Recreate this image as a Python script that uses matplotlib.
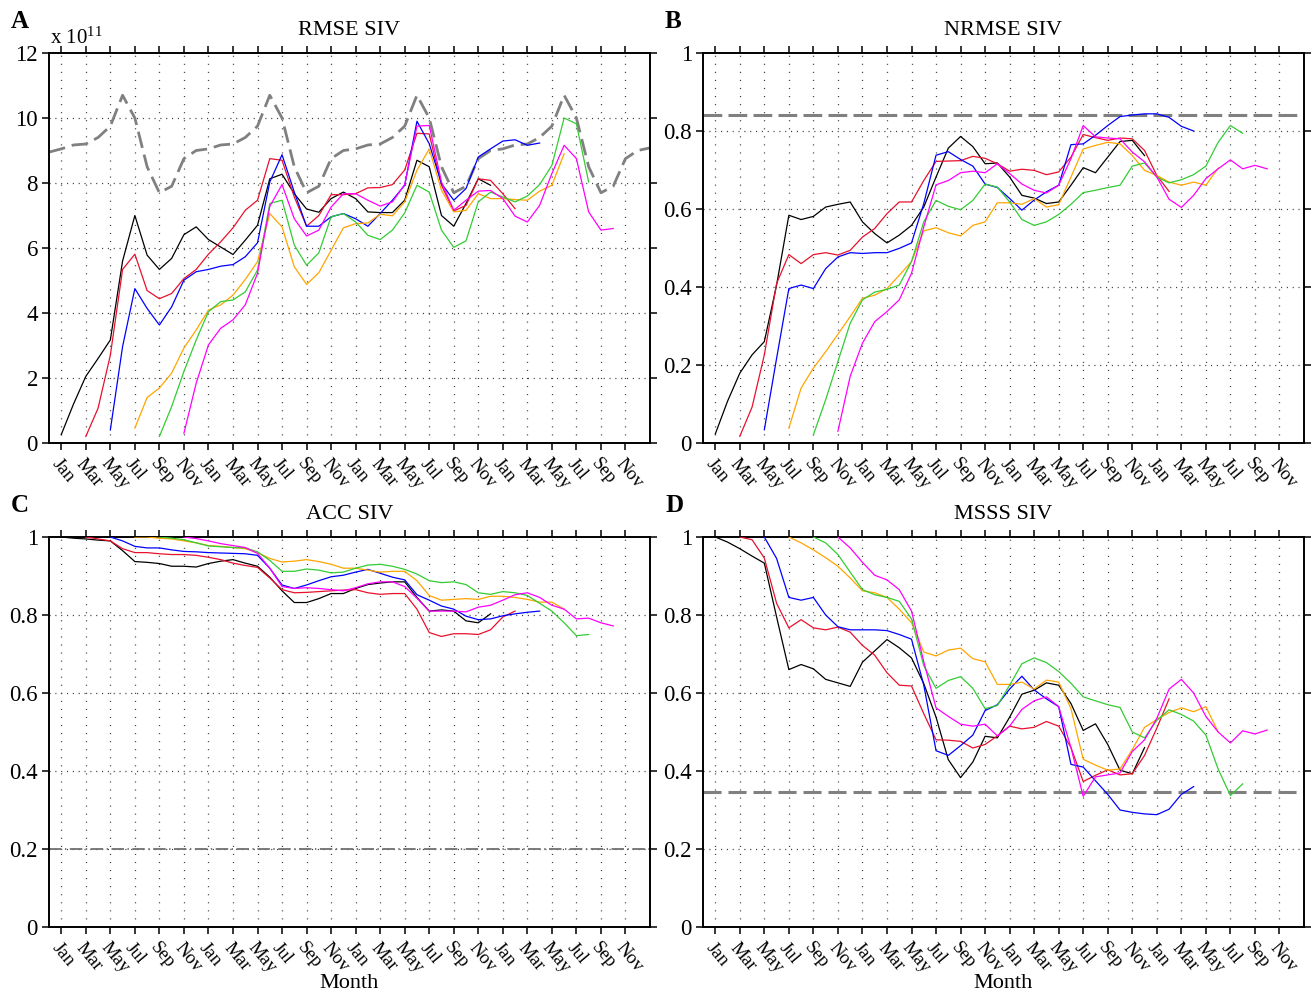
import numpy as np
import matplotlib
matplotlib.use("Agg")
import matplotlib.pyplot as plt

plt.rcParams['font.family'] = ['Liberation Serif', 'DejaVu Serif']
plt.rcParams['mathtext.fontset'] = 'stix'
plt.rcParams['lines.scale_dashes'] = False

# ---------------------------------------------------------------- data
month_labels = ['Jan', 'Mar', 'May', 'Jul', 'Sep', 'Nov'] * 4
series_names = ['Jan', 'Mar', 'May', 'Jul', 'Sep', 'Nov']
series_start = [0, 2, 4, 6, 8, 10]          # lead month index of first value
series_colors = ['#000000', '#e8112d', '#0000ff', '#ffa500', '#33cc33', '#ff00ff']

# RMSE of sea-ice volume (x 1e11)
rmse_black = [0.26, 1.2, 2.05, 2.6, 3.17, 5.6, 7.0, 5.78, 5.34, 5.68, 6.41, 6.65, 6.26, 6.03, 5.8, 6.24, 6.7, 8.13,
              8.27, 7.67, 7.2, 7.1, 7.52, 7.72, 7.52, 7.11, 7.09, 7.09, 7.47, 8.7, 8.5, 7.0, 6.67, 7.37, 8.13, 7.93]
rmse_red = [0.2, 1.07, 2.7, 5.34, 5.81, 4.69, 4.44, 4.6, 5.06, 5.34, 5.81, 6.19, 6.62, 7.16, 7.47, 8.75, 8.7, 7.57,
            6.67, 7.0, 7.64, 7.64, 7.67, 7.85, 7.86, 7.95, 8.4, 9.53, 9.51, 7.93, 7.14, 7.31, 8.13, 8.08, 7.67, 7.21]
rmse_blue = [0.4, 2.97, 4.75, 4.14, 3.63, 4.19, 5.01, 5.27, 5.34, 5.44, 5.49, 5.73, 6.16, 8.03, 8.87, 7.72, 6.67, 6.67,
             6.96, 7.06, 6.9, 6.67, 7.06, 7.47, 7.93, 9.9, 9.21, 7.98, 7.47, 7.83, 8.8, 9.05, 9.29, 9.33, 9.16, 9.23]
rmse_orange = [0.46, 1.4, 1.69, 2.15, 2.92, 3.48, 4.09, 4.25, 4.55, 5.03, 5.58, 7.06, 6.65, 5.42, 4.88, 5.24, 5.93,
               6.62, 6.75, 6.77, 7.04, 6.99, 7.42, 8.39, 9.05, 7.78, 7.11, 7.16, 7.67, 7.52, 7.52, 7.49, 7.47, 7.75,
               7.93, 8.9]
rmse_green = [0.2, 1.12, 2.2, 3.17, 4.04, 4.35, 4.4, 4.65, 5.32, 7.37, 7.47, 6.09, 5.47, 5.85, 6.96, 7.06, 6.8, 6.39,
              6.26, 6.55, 7.08, 7.93, 7.72, 6.55, 6.02, 6.22, 7.42, 7.72, 7.57, 7.42, 7.6, 7.95, 8.54, 10.0, 9.82, 8.03]
rmse_magenta = [0.3, 1.84, 3.02, 3.53, 3.79, 4.25, 5.22, 7.28, 7.95, 6.9, 6.37, 6.55, 7.26, 7.67, 7.67, 7.47, 7.29,
                7.42, 7.95, 9.75, 9.77, 8.03, 7.16, 7.47, 7.75, 7.77, 7.52, 6.98, 6.8, 7.31, 8.29, 9.16, 8.75, 7.11,
                6.55, 6.6]
# reference RMSE, months -1 .. 48
rmse_ref = [8.95, 9.05, 9.17, 9.2, 9.4, 9.75, 10.7, 10.0, 8.5, 7.7, 7.9, 8.75, 9.0,
            9.05, 9.17, 9.2, 9.4, 9.75, 10.7, 10.0, 8.5, 7.7, 7.9, 8.75, 9.0,
            9.05, 9.17, 9.2, 9.4, 9.75, 10.7, 10.0, 8.5, 7.7, 7.9, 8.75, 9.0,
            9.05, 9.17, 9.2, 9.4, 9.75, 10.7, 10.0, 8.5, 7.7, 7.9, 8.75, 9.0, 9.08]

# NRMSE
nrmse_black = [0.023, 0.107, 0.179, 0.226, 0.26, 0.405, 0.584, 0.573, 0.581, 0.605, 0.612, 0.618, 0.567, 0.537,
               0.513, 0.533, 0.558, 0.605, 0.682, 0.756, 0.786, 0.760, 0.716, 0.718, 0.682, 0.635, 0.628, 0.614,
               0.618, 0.661, 0.706, 0.693, 0.733, 0.773, 0.776, 0.737]
nrmse_red = [0.017, 0.092, 0.226, 0.409, 0.483, 0.460, 0.483, 0.488, 0.482, 0.494, 0.528, 0.550, 0.588, 0.618,
             0.618, 0.673, 0.722, 0.723, 0.724, 0.735, 0.730, 0.716, 0.697, 0.702, 0.699, 0.688, 0.695, 0.733,
             0.791, 0.783, 0.776, 0.782, 0.780, 0.750, 0.686, 0.645]
nrmse_blue = [0.034, 0.217, 0.396, 0.405, 0.396, 0.447, 0.477, 0.488, 0.486, 0.488, 0.488, 0.499, 0.513, 0.614,
              0.738, 0.747, 0.727, 0.710, 0.664, 0.655, 0.627, 0.597, 0.623, 0.644, 0.661, 0.765, 0.767, 0.789,
              0.814, 0.837, 0.841, 0.844, 0.844, 0.835, 0.812, 0.800]
nrmse_orange = [0.038, 0.141, 0.192, 0.234, 0.279, 0.324, 0.371, 0.379, 0.396, 0.430, 0.465, 0.544, 0.552, 0.539,
                0.531, 0.558, 0.567, 0.616, 0.616, 0.612, 0.627, 0.605, 0.611, 0.682, 0.754, 0.763, 0.771, 0.767,
                0.737, 0.699, 0.686, 0.669, 0.661, 0.669, 0.661, 0.705]
nrmse_green = [0.021, 0.111, 0.209, 0.307, 0.367, 0.387, 0.394, 0.405, 0.465, 0.567, 0.622, 0.607, 0.598, 0.622,
               0.664, 0.656, 0.618, 0.573, 0.558, 0.567, 0.586, 0.612, 0.642, 0.648, 0.655, 0.661, 0.710, 0.718,
               0.682, 0.667, 0.675, 0.688, 0.710, 0.771, 0.814, 0.794]
nrmse_magenta = [0.030, 0.171, 0.256, 0.311, 0.337, 0.367, 0.435, 0.554, 0.662, 0.673, 0.693, 0.697, 0.693, 0.716,
                 0.691, 0.664, 0.648, 0.641, 0.661, 0.729, 0.814, 0.785, 0.782, 0.780, 0.746, 0.721, 0.682, 0.625,
                 0.604, 0.635, 0.678, 0.703, 0.726, 0.703, 0.712, 0.703]
nrmse_ref = 0.84

# ACC
acc_black = [1.0, 0.997, 0.995, 0.992, 0.99, 0.965, 0.937, 0.935, 0.932, 0.925, 0.925, 0.923, 0.932, 0.938, 0.942,
             0.933, 0.925, 0.897, 0.862, 0.832, 0.832, 0.842, 0.855, 0.855, 0.868, 0.878, 0.882, 0.885, 0.885,
             0.845, 0.81, 0.813, 0.81, 0.785, 0.78, 0.803]
acc_red = [1.0, 0.995, 0.99, 0.97, 0.96, 0.96, 0.957, 0.955, 0.955, 0.953, 0.948, 0.942, 0.933, 0.927, 0.922,
           0.895, 0.865, 0.857, 0.858, 0.86, 0.862, 0.864, 0.865, 0.857, 0.853, 0.855, 0.855, 0.815, 0.755, 0.745,
           0.752, 0.752, 0.75, 0.762, 0.795, 0.81]
acc_blue = [1.0, 0.99, 0.976, 0.972, 0.972, 0.967, 0.963, 0.962, 0.96, 0.959, 0.958, 0.957, 0.953, 0.92, 0.877,
            0.868, 0.877, 0.888, 0.898, 0.902, 0.91, 0.917, 0.907, 0.897, 0.89, 0.852, 0.838, 0.823, 0.815, 0.797,
            0.788, 0.79, 0.798, 0.803, 0.807, 0.81]
acc_orange = [1.0, 1.0, 0.997, 0.995, 0.99, 0.985, 0.978, 0.976, 0.973, 0.97, 0.96, 0.945, 0.936, 0.938, 0.942,
              0.937, 0.93, 0.92, 0.92, 0.915, 0.91, 0.912, 0.912, 0.888, 0.85, 0.838, 0.84, 0.842, 0.84, 0.848,
              0.848, 0.845, 0.84, 0.833, 0.833, 0.815]
acc_green = [1.0, 0.997, 0.993, 0.985, 0.977, 0.975, 0.973, 0.972, 0.962, 0.94, 0.912, 0.912, 0.918, 0.915, 0.908,
             0.91, 0.92, 0.928, 0.93, 0.925, 0.917, 0.905, 0.888, 0.883, 0.885, 0.878, 0.857, 0.853, 0.86, 0.857,
             0.85, 0.83, 0.81, 0.78, 0.747, 0.75]
acc_magenta = [1.0, 0.996, 0.99, 0.983, 0.978, 0.973, 0.958, 0.92, 0.873, 0.868, 0.87, 0.868, 0.865, 0.862, 0.87,
               0.88, 0.885, 0.885, 0.873, 0.843, 0.81, 0.81, 0.81, 0.808, 0.82, 0.825, 0.838, 0.852, 0.857, 0.845,
               0.825, 0.815, 0.79, 0.792, 0.78, 0.772]
acc_ref = 0.2

# MSSS
msss_black = [1.0, 0.987, 0.97, 0.951, 0.933, 0.795, 0.66, 0.673, 0.662, 0.635, 0.626, 0.617, 0.679, 0.708, 0.737,
              0.716, 0.69, 0.624, 0.538, 0.429, 0.383, 0.423, 0.489, 0.485, 0.538, 0.597, 0.607, 0.626, 0.62, 0.573,
              0.504, 0.521, 0.468, 0.402, 0.393, 0.46]
msss_red = [1.0, 0.993, 0.946, 0.83, 0.767, 0.788, 0.767, 0.762, 0.769, 0.756, 0.722, 0.697, 0.652, 0.62, 0.618,
            0.547, 0.48, 0.479, 0.476, 0.459, 0.468, 0.49, 0.515, 0.508, 0.512, 0.527, 0.515, 0.46, 0.373, 0.389,
            0.403, 0.39, 0.393, 0.44, 0.51, 0.585]
msss_blue = [1.0, 0.945, 0.845, 0.838, 0.845, 0.8, 0.77, 0.762, 0.762, 0.762, 0.76, 0.75, 0.738, 0.62, 0.452, 0.44,
             0.465, 0.492, 0.555, 0.57, 0.61, 0.643, 0.608, 0.585, 0.565, 0.417, 0.41, 0.375, 0.34, 0.30, 0.294,
             0.29, 0.288, 0.302, 0.34, 0.36]
msss_orange = [1.0, 0.985, 0.967, 0.947, 0.925, 0.895, 0.862, 0.857, 0.845, 0.815, 0.78, 0.705, 0.695, 0.71, 0.715,
               0.688, 0.68, 0.622, 0.622, 0.628, 0.61, 0.633, 0.628, 0.56, 0.43, 0.415, 0.402, 0.405, 0.455, 0.512,
               0.532, 0.55, 0.562, 0.552, 0.565, 0.5]
msss_green = [1.0, 0.985, 0.955, 0.91, 0.865, 0.852, 0.845, 0.835, 0.79, 0.67, 0.612, 0.632, 0.642, 0.612, 0.56,
              0.568, 0.62, 0.675, 0.69, 0.678, 0.655, 0.625, 0.59, 0.58, 0.57, 0.563, 0.5, 0.485, 0.53, 0.557,
              0.545, 0.528, 0.492, 0.405, 0.337, 0.367]
msss_magenta = [1.0, 0.972, 0.935, 0.902, 0.89, 0.865, 0.81, 0.68, 0.562, 0.54, 0.52, 0.515, 0.52, 0.49, 0.515,
                0.558, 0.58, 0.59, 0.565, 0.46, 0.335, 0.385, 0.39, 0.395, 0.45, 0.48, 0.535, 0.61, 0.635, 0.6,
                0.54, 0.5, 0.472, 0.503, 0.495, 0.505]
msss_ref = 0.345

panels = [
    dict(letter='A', title='RMSE SIV', ylim=(0, 12), yticks=[0, 2, 4, 6, 8, 10, 12],
         series=[rmse_black, rmse_red, rmse_blue, rmse_orange, rmse_green, rmse_magenta]),
    dict(letter='B', title='NRMSE SIV', ylim=(0, 1), yticks=[0, 0.2, 0.4, 0.6, 0.8, 1],
         series=[nrmse_black, nrmse_red, nrmse_blue, nrmse_orange, nrmse_green, nrmse_magenta]),
    dict(letter='C', title='ACC SIV', ylim=(0, 1), yticks=[0, 0.2, 0.4, 0.6, 0.8, 1],
         series=[acc_black, acc_red, acc_blue, acc_orange, acc_green, acc_magenta]),
    dict(letter='D', title='MSSS SIV', ylim=(0, 1), yticks=[0, 0.2, 0.4, 0.6, 0.8, 1],
         series=[msss_black, msss_red, msss_blue, msss_orange, msss_green, msss_magenta]),
]

# ---------------------------------------------------------------- figure
W, H = 1312, 992
fig = plt.figure(figsize=(W / 100, H / 100), dpi=100)

def px_axes(left, top, right, bottom):
    return fig.add_axes([left / W, 1 - bottom / H, (right - left) / W, (bottom - top) / H])

boxes = [(49, 53, 650, 443), (703, 53, 1304, 443), (49, 537, 650, 927), (703, 537, 1304, 927)]
xticks = np.arange(0, 48, 2)

def fmt_y(v):
    return '%g' % v

for i, (p, box) in enumerate(zip(panels, boxes)):
    ax = px_axes(*box)
    ax.set_xlim(-1, 48)
    ax.set_ylim(*p['ylim'])

    # dotted grid
    for xv in xticks:
        ax.axvline(xv, color='0.25', lw=0.9, ls=(0, (0.8, 5.0)), zorder=0)
    for yv in p['yticks'][1:-1]:
        ax.axhline(yv, color='0.25', lw=0.9, ls=(0, (0.8, 3.4)), zorder=0)

    # reference lines
    if i == 0:
        ax.plot(np.arange(-1, 49), rmse_ref, color='#808080', lw=2.0, ls=(0, (12, 5)), zorder=2)
    elif i == 1:
        ax.axhline(nrmse_ref, color='#808080', lw=2.2, ls=(0, (13.5, 4.5)), zorder=2)
    elif i == 2:
        ax.axhline(acc_ref, color='#707070', lw=1.3, ls=(0, (9, 2.5, 1, 2.5)), zorder=2)
    else:
        ax.axhline(msss_ref, color='#808080', lw=2.2, ls=(0, (13, 5)), zorder=2)

    for vals, s, c in zip(p['series'], series_start, series_colors):
        x = np.arange(s, s + len(vals))
        ax.plot(x, vals, color=c, lw=0.9, zorder=3)

    ax.set_xticks(xticks)
    ax.set_xticklabels(month_labels, rotation=-50, ha='left', va='top', rotation_mode='anchor', fontsize=13.5)
    ax.set_yticks(p['yticks'])
    ax.set_yticklabels([fmt_y(v) for v in p['yticks']], fontsize=16.5)
    ax.tick_params(direction='out', length=5, width=1.1, top=True, right=True, pad=3)
    ax.tick_params(axis='x', pad=4)
    for sp in ax.spines.values():
        sp.set_linewidth(1.4)

    ax.text(0.5, 1.045, p['title'], transform=ax.transAxes, ha='center', va='baseline', fontsize=16)
    fig.text((box[0] - 38) / W, 1 - (box[1] - 25) / H, p['letter'], ha='left', va='baseline',
             fontsize=18, fontweight='bold')
    if i >= 2:
        fig.text((box[0] + box[2]) / 2 / W, 1 - 988 / H, 'Month', ha='center', va='baseline', fontsize=16)

fig.text(50 / W, 1 - 44 / H, r'x $\mathregular{10^{11}}$', ha='left', va='baseline', fontsize=15)

fig.savefig('out.png', dpi=100)
